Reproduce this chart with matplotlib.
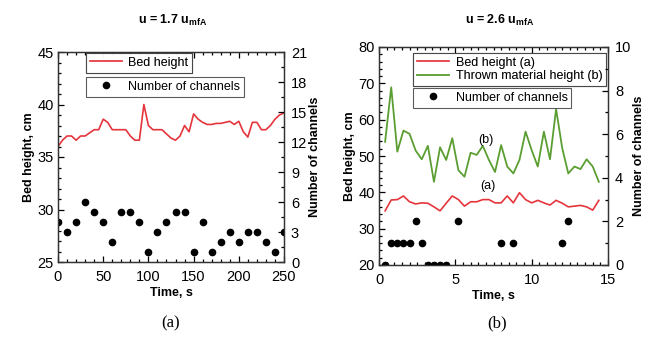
import matplotlib.pyplot as plt
from matplotlib.ticker import MultipleLocator

plt.rcParams['font.family'] = 'Liberation Sans'
plt.rcParams['mathtext.fontset'] = 'custom'
plt.rcParams['mathtext.rm'] = 'Liberation Sans'
plt.rcParams['mathtext.bf'] = 'Liberation Sans:bold'

# ---- panel (a): u = 1.7 umfA ----
time_a = [0, 5, 10, 15, 20, 25, 30, 35, 40, 45, 50, 55, 60, 65, 70, 75, 80, 85, 90, 95,
          100, 105, 110, 115, 120, 125, 130, 135, 140, 145, 150, 155, 160, 165, 170, 175,
          180, 185, 190, 195, 200, 205, 210, 215, 220, 225, 230, 235, 240, 245, 250]
bed_a = [36.0, 36.6, 37.0, 37.0, 36.6, 37.0, 37.0, 37.3, 37.6, 37.6, 38.6, 38.3, 37.6, 37.6,
         37.6, 37.6, 37.0, 36.6, 36.6, 40.0, 38.0, 37.6, 37.6, 37.6, 37.2, 36.8, 36.6, 37.0,
         38.0, 37.4, 39.1, 38.6, 38.3, 38.1, 38.1, 38.2, 38.2, 38.3, 38.4, 38.1, 38.4, 37.4,
         36.9, 38.3, 38.3, 37.6, 37.6, 38.0, 38.6, 39.0, 39.2]
ch_time_a = [0, 10, 20, 30, 40, 50, 60, 70, 80, 90, 100, 110, 120, 130, 140, 150, 160,
             170, 180, 190, 200, 210, 220, 230, 240, 250]
channels_a = [4, 3, 4, 6, 5, 4, 2, 5, 5, 4, 1, 3, 4, 5, 5, 1, 4, 1, 2, 3, 2, 3, 3, 2, 1, 3]

# ---- panel (b): u = 2.6 umfA ----
time_b = [0.4, 0.8, 1.2, 1.6, 2.0, 2.4, 2.8, 3.2, 3.6, 4.0, 4.4, 4.8, 5.2, 5.6, 6.0, 6.4,
          6.8, 7.2, 7.6, 8.0, 8.4, 8.8, 9.2, 9.6, 10.0, 10.4, 10.8, 11.2, 11.6, 12.0, 12.4,
          12.8, 13.2, 13.6, 14.0, 14.4]
bed_b = [34.9, 37.9, 38.0, 39.0, 37.4, 36.8, 37.1, 37.0, 36.0, 34.9, 37.0, 39.0, 38.0, 36.2,
         37.4, 37.4, 38.0, 38.0, 37.1, 37.1, 39.0, 37.1, 39.9, 38.0, 37.1, 37.8, 37.1, 36.5,
         37.8, 37.0, 36.0, 36.2, 36.4, 36.0, 35.1, 37.8]
thrown_b = [53.9, 68.9, 51.2, 57.0, 56.1, 51.5, 49.1, 52.8, 42.9, 52.4, 48.9, 54.9, 46.1,
            44.3, 50.9, 50.3, 52.8, 48.9, 45.6, 53.0, 47.1, 45.2, 48.9, 56.7, 51.6, 47.1,
            56.7, 49.1, 62.9, 52.2, 45.2, 47.1, 46.4, 49.1, 47.1, 42.9]
ch_time_b = [0.4, 0.8, 1.2, 1.6, 2.0, 2.4, 2.8, 3.2, 3.6, 4.0, 4.4, 5.2, 8.0, 8.8, 12.0, 12.4]
channels_b = [0, 1, 1, 1, 1, 2, 1, 0, 0, 0, 0, 2, 1, 1, 1, 2]

RED = '#e5353c'
GREEN = '#5b9e32'
W, H = 653, 343


def style_axes(ax, ax2, xmin, xmaj, ymin, ymaj, y2min, y2maj):
    for a in (ax, ax2):
        a.tick_params(which='both', direction='in', labelsize=10.5, width=0.9, pad=3)
        a.tick_params(which='major', length=4)
        a.tick_params(which='minor', length=2)
        for s in a.spines.values():
            s.set_linewidth(0.9)
            s.set_color('#333333')
    ax.tick_params(axis='x', pad=6)
    ax2.tick_params(axis='y', pad=5)
    ax.tick_params(which='both', top=True, right=False)
    ax2.tick_params(which='both', right=True, left=False, top=False)
    ax.xaxis.set_major_locator(MultipleLocator(xmaj))
    ax.xaxis.set_minor_locator(MultipleLocator(xmin))
    ax.yaxis.set_major_locator(MultipleLocator(ymaj))
    ax.yaxis.set_minor_locator(MultipleLocator(ymin))
    ax2.yaxis.set_major_locator(MultipleLocator(y2maj))
    ax2.yaxis.set_minor_locator(MultipleLocator(y2min))


def add_legend(ax, handles, labels, px, py):
    leg = ax.legend(handles, labels, loc='upper left',
                    bbox_to_anchor=(px / W, 1 - py / H), bbox_transform=fig.transFigure,
                    borderaxespad=0, fontsize=9, frameon=True, fancybox=False,
                    handlelength=2.6, handletextpad=0.5, borderpad=0.3, labelspacing=0.1)
    leg.get_frame().set_edgecolor('#333333')
    leg.get_frame().set_linewidth(0.8)
    return leg


fig = plt.figure(figsize=(6.53, 3.43), dpi=100)

# panel (a)
ax = fig.add_axes([58 / W, 1 - 262 / H, 226 / W, 210 / H])
ax2 = ax.twinx()
la, = ax.plot(time_a, bed_a, color=RED, lw=1.2)
da, = ax2.plot(ch_time_a, channels_a, 'o', color='black', ms=4.5)
ax.set_xlim(0, 250)
ax.set_ylim(25, 45)
ax2.set_ylim(0, 21)
style_axes(ax, ax2, 10, 50, 1, 5, 1.5, 3)
ax.set_xlabel('Time, s', fontsize=9, fontweight='bold', labelpad=2)
ax.set_ylabel('Bed height, cm', fontsize=9, fontweight='bold', labelpad=2)
ax2.set_ylabel('Number of channels', fontsize=9, fontweight='bold', labelpad=1)
leg1 = add_legend(ax, [la], ['Bed height'], 86, 53)
ax.add_artist(leg1)
add_legend(ax2, [da], ['Number of channels'], 86, 77)
fig.text(173 / W, 1 - 20 / H, r'u = 1.7 u$_{\mathbf{mfA}}$', ha='center', va='center',
         fontsize=9, fontweight='bold')
fig.text(171 / W, 1 - 323 / H, '(a)', ha='center', va='center', fontsize=12,
         family='Liberation Serif')

# panel (b)
bx = fig.add_axes([379 / W, 1 - 265 / H, 229 / W, 218 / H])
bx2 = bx.twinx()
lb1, = bx.plot(time_b, bed_b, color=RED, lw=1.2)
lb2, = bx.plot(time_b, thrown_b, color=GREEN, lw=1.3)
db, = bx2.plot(ch_time_b, channels_b, 'o', color='black', ms=4.5)
bx.set_xlim(0, 15)
bx.set_ylim(20, 80)
bx2.set_ylim(0, 10)
style_axes(bx, bx2, 0.5, 5, 2, 10, 1, 2)
bx.set_xlabel('Time, s', fontsize=9, fontweight='bold', labelpad=2)
bx.set_ylabel('Bed height, cm', fontsize=9, fontweight='bold', labelpad=2)
bx2.set_ylabel('Number of channels', fontsize=9, fontweight='bold', labelpad=1)
leg2 = add_legend(bx, [lb1, lb2], ['Bed height (a)', 'Thrown material height (b)'], 413, 53)
bx.add_artist(leg2)
add_legend(bx2, [db], ['Number of channels'], 413, 88)
bx.text(7.0, 54.5, '(b)', ha='center', va='center', fontsize=9)
bx.text(7.1, 41.8, '(a)', ha='center', va='center', fontsize=9)
fig.text(500 / W, 1 - 20 / H, r'u = 2.6 u$_{\mathbf{mfA}}$', ha='center', va='center',
         fontsize=9, fontweight='bold')
fig.text(497 / W, 1 - 323 / H, '(b)', ha='center', va='center', fontsize=12,
         family='Liberation Serif')

fig.savefig('out.png', dpi=100)
